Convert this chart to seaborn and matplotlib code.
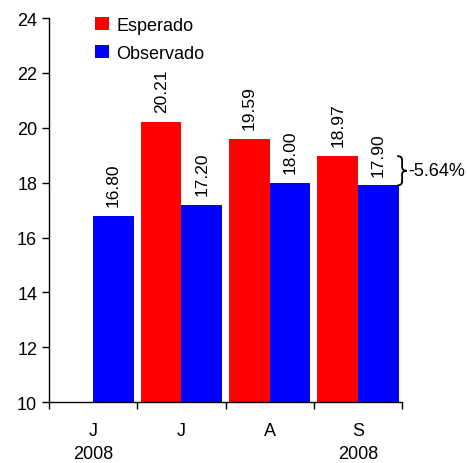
import pandas as pd
import matplotlib
matplotlib.use("Agg")
import matplotlib.pyplot as plt
import seaborn as sns
from matplotlib.ticker import FixedLocator
from matplotlib.path import Path
from matplotlib.patches import PathPatch

meses = ["J\n2008", "J", "A", "S\n2008"]
esperado = [None, 20.21, 19.59, 18.97]
observado = [16.80, 17.20, 18.00, 17.90]
variacao = "-5.64%"

sns.set_style("ticks")
plt.rcParams['font.family'] = ['Liberation Sans', 'DejaVu Sans']
plt.rcParams.update({"text.color": "black", "xtick.color": "black",
                     "ytick.color": "black", "axes.edgecolor": "black"})

df = pd.DataFrame({
    "mes": meses * 2,
    "serie": ["Esperado"] * 4 + ["Observado"] * 4,
    "valor": esperado + observado,
})

fig = plt.figure(figsize=(4.67, 4.64), dpi=100)
ax = fig.add_axes([0.105, 0.131, 0.756, 0.828])

sns.barplot(data=df, x="mes", y="valor", hue="serie", order=meses,
            hue_order=["Esperado", "Observado"],
            palette={"Esperado": "#ff0000", "Observado": "#0000ff"},
            width=0.92, saturation=1, linewidth=0, ax=ax)

ax.set_ylim(10, 24)
ax.set_yticks(range(10, 25, 2))
ax.set_xlim(-0.5, 3.5)
ax.set_xlabel("")
ax.set_ylabel("")

# rótulos de valor rotacionados
for cont in ax.containers:
    for bar in cont:
        h = bar.get_height()
        if pd.isna(h) or h == 0:
            continue
        ax.text(bar.get_x() + bar.get_width() / 2, h + 0.36, f"{h:.2f}",
                rotation=90, ha="center", va="bottom", fontsize=12.5)

# ticks nas fronteiras das categorias
ax.tick_params(axis="x", which="major", length=0, pad=14, labelsize=13)
ax.xaxis.set_minor_locator(FixedLocator([-0.5, 0.5, 1.5, 2.5, 3.5]))
ax.tick_params(axis="x", which="minor", length=5, direction="out", width=1)
ax.tick_params(axis="y", length=5, labelsize=13, width=1)
for lab in ax.get_xticklabels():
    lab.set_linespacing(1.5)

sns.despine(ax=ax)
for s in ["left", "bottom"]:
    ax.spines[s].set_linewidth(1)

# chave com a diferença
yt, yb = esperado[3], observado[3]
ym = (yt + yb) / 2
x0, x1, x2, r = 3.445, 3.5, 3.555, 0.14
verts = [(x0, yt), (x1, yt), (x1, yt - r),
         (x1, ym + r), (x1, ym), (x2, ym),
         (x1, ym), (x1, ym - r),
         (x1, yb + r), (x1, yb), (x0, yb)]
codes = [Path.MOVETO, Path.CURVE3, Path.CURVE3,
         Path.LINETO, Path.CURVE3, Path.CURVE3,
         Path.CURVE3, Path.CURVE3,
         Path.LINETO, Path.CURVE3, Path.CURVE3]
ax.add_patch(PathPatch(Path(verts, codes), fill=False, lw=1.3,
                       edgecolor="black", clip_on=False))
ax.text(3.575, ym, variacao, fontsize=13, ha="left", va="center",
        clip_on=False)

leg = ax.legend(loc="upper left", bbox_to_anchor=(0.085, 1.045), frameon=False,
                fontsize=13, handlelength=0.75, handleheight=0.75,
                handletextpad=0.4, labelspacing=0.62)

fig.savefig("out.png", dpi=100)
